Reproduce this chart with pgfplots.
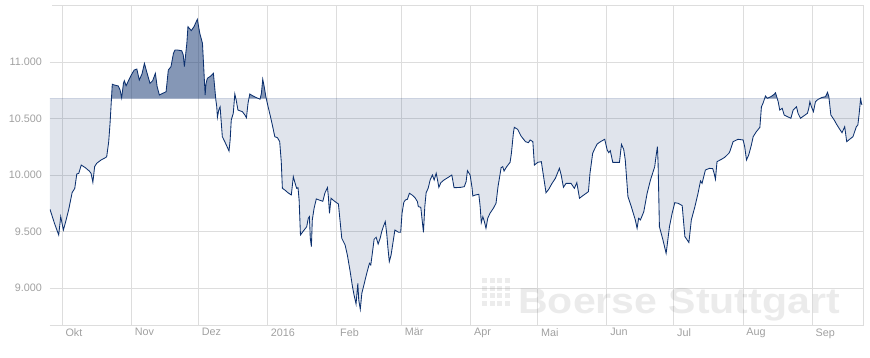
\documentclass[border=0pt]{standalone}
\usepackage{fontspec}
\setmainfont{Liberation Sans}
\usepackage{pgfplots}
\pgfplotsset{compat=1.18}
\usetikzlibrary{calc}
\usepackage{pgfplotstable}
\definecolor{navy}{RGB}{12,48,110}
\definecolor{gridgray}{RGB}{221,221,221}
\definecolor{labelgray}{RGB}{160,160,160}

\pgfplotstableread{
day value
-5.4 9696
-3.4 9572
-1.5 9469
-0.6 9631
0.6 9513
1.5 9578
3.0 9696
4.5 9843
5.7 9882
6.6 10009
7.5 10015
8.6 10088
10.4 10065
12.2 10035
13.0 10015
13.8 9935
14.6 10074
15.5 10103
17.5 10133
19.4 10153
20.0 10162
20.9 10295
21.5 10457
22.1 10664
22.5 10803
23.4 10797
25.2 10788
26.0 10752
26.7 10684
27.5 10811
27.9 10835
28.7 10790
29.9 10841
31.0 10885
32.3 10929
33.5 10938
34.6 10841
35.8 10894
36.9 10988
37.9 10915
39.4 10811
40.6 10835
41.8 10900
42.6 10782
43.6 10708
45.1 10723
46.6 10737
47.6 10929
48.8 10959
49.9 11077
50.6 11106
51.8 11106
53.6 11100
54.3 11062
54.8 10959
55.9 11166
56.4 11313
57.9 11278
59.1 11313
60.6 11378
61.7 11254
62.9 11166
63.6 10900
64.1 10708
64.5 10811
65.1 10856
66.6 10876
67.8 10900
68.9 10664
69.3 10604
69.6 10511
70.2 10575
70.8 10604
71.8 10339
72.9 10295
74.8 10212
75.3 10310
75.8 10487
76.7 10546
77.4 10717
78.0 10664
78.8 10575
80.8 10560
81.9 10531
82.6 10507
83.3 10634
84.1 10717
85.3 10702
86.8 10687
88.7 10671
89.3 10723
89.9 10847
90.5 10788
91.3 10693
92.3 10604
93.2 10531
94.2 10443
95.3 10339
96.5 10330
97.5 10295
98.2 10118
98.7 9882
99.8 9867
101.2 9843
102.7 9823
103.6 9985
104.4 9926
105.1 9882
105.7 9888
106.2 9779
106.8 9469
108.1 9504
109.6 9542
110.3 9617
110.8 9631
111.2 9440
111.7 9366
112.1 9602
112.9 9705
113.9 9788
115.1 9779
116.8 9767
117.8 9843
118.9 9888
119.3 9808
119.8 9661
120.5 9794
121.9 9770
123.8 9743
124.5 9602
125.3 9440
126.8 9380
127.8 9292
129.0 9153
130.1 9011
130.8 8938
131.7 8858
132.5 9041
132.9 8894
133.6 8811
134.3 8953
135.4 9041
136.5 9130
137.7 9218
138.3 9203
139.0 9307
139.8 9431
140.7 9449
141.6 9389
142.5 9440
143.2 9498
143.9 9542
144.8 9587
145.5 9469
146.0 9351
146.6 9233
147.4 9292
148.2 9396
149.1 9513
150.7 9493
151.7 9493
152.3 9661
153.1 9758
153.8 9779
154.7 9785
155.6 9838
156.8 9823
158.1 9799
159.2 9764
159.6 9720
160.7 9714
161.3 9602
161.9 9493
162.5 9720
163.1 9843
164.0 9882
164.9 9956
165.9 10000
166.7 9956
167.6 10015
168.2 9956
168.8 9891
169.7 9932
171.1 9956
173.1 9980
174.6 10000
175.0 9956
175.6 9888
176.5 9888
178.8 9891
180.2 9897
181.0 9941
181.6 10038
182.8 10000
183.7 9882
184.0 9814
185.2 9823
186.7 9829
187.3 9720
187.8 9578
188.5 9631
189.2 9587
189.9 9528
190.7 9617
191.7 9661
193.2 9705
194.4 9749
195.3 9897
196.7 10065
197.4 10074
198.0 10035
199.2 10074
200.7 10112
201.3 10192
202.2 10374
202.6 10422
204.1 10404
205.6 10345
207.6 10295
208.9 10286
209.7 10310
210.9 10295
211.6 10088
213.1 10112
214.7 10118
215.6 10000
216.8 9843
218.0 9873
219.5 9926
221.0 9971
222.8 10059
223.6 10000
224.6 9891
225.8 9926
228.0 9926
229.5 9882
230.6 9932
231.8 9794
233.3 9817
234.8 9838
235.8 9853
236.5 10015
237.7 10192
238.5 10227
239.7 10274
241.2 10295
243.1 10316
244.2 10221
244.9 10198
245.6 10215
246.7 10112
249.7 10112
250.6 10271
251.6 10227
252.3 10133
253.5 9808
255.0 9720
256.8 9602
257.6 9528
258.3 9617
259.1 9602
260.6 9675
262.1 9838
263.6 9956
265.5 10074
266.1 10168
266.7 10251
267.0 10104
267.6 9542
269.1 9431
270.6 9307
271.0 9366
272.1 9542
273.3 9661
274.5 9755
276.0 9749
277.8 9729
279.0 9455
280.8 9402
281.9 9602
283.5 9720
284.9 9838
286.0 9947
286.7 9926
288.2 10044
290.0 10059
291.5 10056
292.1 10015
292.7 9962
293.4 10118
295.4 10139
296.9 10157
298.7 10192
299.1 10206
300.6 10295
302.8 10316
305.1 10310
305.8 10251
306.6 10133
307.6 10177
308.8 10266
309.6 10339
311.0 10383
312.6 10422
313.3 10604
314.0 10634
315.1 10699
316.0 10679
317.5 10693
319.0 10714
319.6 10728
320.8 10649
321.5 10575
322.6 10590
323.5 10531
325.0 10516
326.5 10502
327.5 10575
329.0 10604
329.7 10546
330.8 10502
332.4 10525
333.9 10546
334.5 10590
335.0 10649
335.7 10604
336.6 10560
337.5 10649
338.7 10670
340.5 10687
342.0 10693
342.9 10732
343.5 10693
344.4 10531
345.9 10487
346.9 10451
348.1 10413
349.4 10374
350.6 10427
351.5 10295
352.8 10316
354.3 10339
355.8 10427
356.5 10443
357.1 10546
357.7 10670
358.3 10620
}\dax

\begin{document}
\begin{tikzpicture}
\begin{axis}[
  scale only axis, width=813pt, height=320pt,
  xmin=-5.4, xmax=358.8, ymin=8672, ymax=11505,
  scaled x ticks=false, scaled y ticks=false,
  axis line style={draw=none},
  major tick length=0pt,
  xtick={0,31,61,92,123,152,183,213,244,274,305,336},
  xticklabels={Okt,Nov,Dez,2016,Feb,Mär,Apr,Mai,Jun,Jul,Aug,Sep},
  ytick={9000,9500,10000,10500,11000},
  yticklabels={9.000,9.500,10.000,10.500,11.000},
  grid=major,
  major grid style={gridgray, line width=0.75pt},
  tick label style={font=\fontsize{10.8}{12}\selectfont, text=labelgray},
  xticklabel style={anchor=north west},
  yticklabel style={anchor=east, xshift=-4.5pt},
  /pgf/number format/assume math mode=true,
]
\begin{scope}
  \clip (axis cs:-10,10675) rectangle (axis cs:370,12000);
  \addplot[fill=navy, fill opacity=0.5, draw=none, forget plot] table[x=day,y=value] {\dax}
    -- (axis cs:358.3,10675) -- (axis cs:-5.4,10675) -- cycle;
\end{scope}
\begin{scope}
  \clip (axis cs:-10,8000) rectangle (axis cs:370,10675);
  \addplot[fill=navy, fill opacity=0.13, draw=none, forget plot] table[x=day,y=value] {\dax}
    -- (axis cs:358.3,10675) -- (axis cs:-5.4,10675) -- cycle;
\end{scope}
\addplot[navy, line width=0.85pt] table[x=day,y=value] {\dax};
\coordinate (bl) at (rel axis cs:0,0);
\coordinate (br) at (rel axis cs:1,0);
\coordinate (tr) at (rel axis cs:1,1);
\coordinate (tl) at (rel axis cs:0,1);
\coordinate (wm) at (axis cs:204.3,8770);
\coordinate (logo) at (axis cs:188.2,9088);
\end{axis}
\draw[gridgray, line width=0.75pt] (bl) -- (br) -- (tr) -- ($(tl)+(2pt,0)$);
\foreach \i in {0,...,3} \foreach \j in {0,...,3}
  \fill[black!60, opacity=0.12] ([shift={(\i*7.6pt,-\j*7.6pt)}]logo) rectangle ++(5pt,-5pt);
\node[anchor=base west, inner sep=0pt, text=black!60, text opacity=0.13, font=\bfseries\fontsize{36}{40}\selectfont, xscale=1.14] at (wm) {Boerse Stuttgart};
\pgfresetboundingbox
\path ($(bl)+(-50pt,-33pt)$) rectangle ($(tr)+(7pt,5pt)$);
\end{tikzpicture}
\end{document}
